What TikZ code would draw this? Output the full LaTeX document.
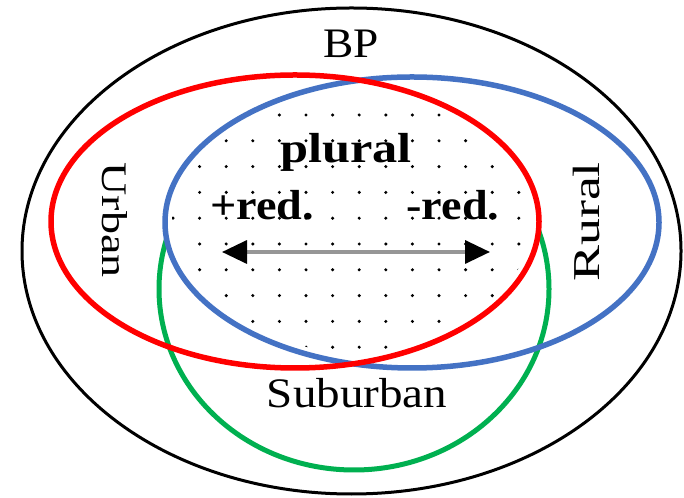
\documentclass[tikz,border=0pt]{standalone}
\usepackage{fontspec}
\setmainfont{Liberation Serif}
\usetikzlibrary{arrows.meta}
\definecolor{cred}{RGB}{255,0,0}
\definecolor{cblue}{RGB}{68,114,196}
\definecolor{cgreen}{RGB}{0,176,80}
\definecolor{cshaft}{RGB}{150,150,150}
\begin{document}
\begin{tikzpicture}[x=1pt,y=1pt,
  txt/.style={font=\fontsize{42}{48}\selectfont, inner sep=0pt, transform shape},
  btxt/.style={font=\fontsize{42}{48}\selectfont\bfseries, inner sep=0pt, transform shape},
  ring/.style={line width=5.5pt},
  >={Triangle[length=25pt,width=23pt,color=black]}]
\useasboundingbox (0,0) rectangle (684,497);
\fill[white] (0,0) rectangle (684,497);
% outer set BP
\draw[black, line width=3pt] (351.5,246) ellipse [x radius=329.5, y radius=243];
% suburban
\draw[ring, cgreen, line width=5pt] (354,208) ellipse [x radius=195, y radius=181];
% white core (urban and rural)
\begin{scope}
  \clip (295,275.5) ellipse [x radius=244, y radius=146.5];
  \fill[white] (412,274.5) ellipse [x radius=247, y radius=145.5];
\end{scope}
% dots
\begin{scope}
  \clip (295,275.5) ellipse [x radius=237, y radius=139.5];
  \clip (412,274.5) ellipse [x radius=240, y radius=138.5];
  \foreach \i in {0,...,14}
    \foreach \j in {0,...,10}
      \fill[black] (173+26.6*\i, 382-25.8*\j) circle (1.7);
\end{scope}
% rural and urban
\draw[ring, cblue] (412,274.5) ellipse [x radius=247, y radius=145.5];
\draw[ring, cred] (295,275.5) ellipse [x radius=244, y radius=146.5];
% arrow
\coordinate (al) at (222,245);
\coordinate (ar) at (490,245);
\draw[cshaft, line width=3.5pt, <->] (al) -- (ar);
% labels
\node[txt, xscale=1.08] (bp) at (351,453) {BP};
\node[btxt, xscale=1.2, anchor=base] (pl) at (346,334) {plural};
\node[btxt, xscale=1.1, anchor=base] (pr) at (262,277) {+red.};
\node[btxt, xscale=1.1, anchor=base] (mr) at (453,277) {-red.};
\node[txt, xscale=1.12, anchor=base] (sub) at (357,89) {Suburban};
\node[txt, font=\fontsize{36}{42}\selectfont, rotate=-90, xscale=1.28] (urb) at (115,277) {Urban};
\node[txt, font=\fontsize{38}{44}\selectfont, rotate=90, xscale=1.42] (rur) at (586,275) {Rural};
\end{tikzpicture}
\end{document}
